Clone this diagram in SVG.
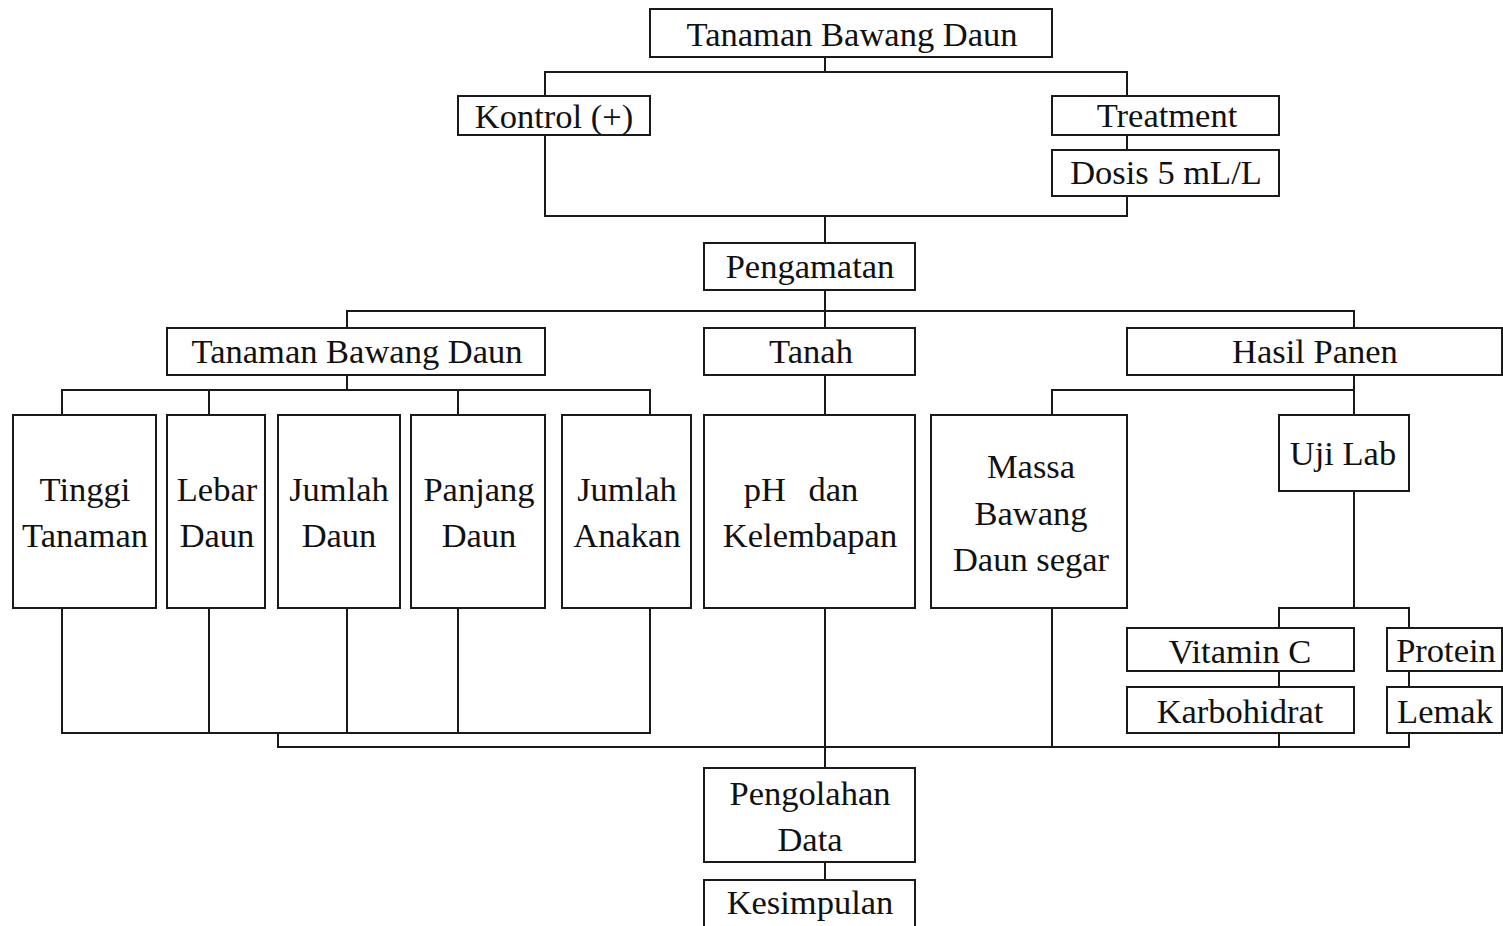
<svg xmlns="http://www.w3.org/2000/svg" width="1503" height="926" viewBox="0 0 1503 926">
<style>
rect{fill:#fff;stroke:#1a1a1a;stroke-width:2}
#connectors path{fill:none;stroke:#1a1a1a;stroke-width:2}
text{font-family:"Liberation Serif","Times New Roman",serif;font-size:34.5px;fill:#111;text-anchor:middle}
</style>
<rect width="1503" height="926" style="stroke:none"/>
<g id="connectors">
<path d="M825 57V72M545 96V72H1127V96M1127 135V150M545 135V216H1127V196M825 216V243"/>
<path d="M825 290V311M347 328V311H1354V328M825 311V328"/>
<path d="M347 375V390M62 415V390H650V415M209 390V415M458 390V415"/>
<path d="M825 375V415"/>
<path d="M1354 375V390M1052 415V390H1354V415"/>
<path d="M1354 491V608M1279 628V608H1409V628M1279 671V687M1409 671V687"/>
<path d="M62 608V733H650V608M209 608V733M347 608V733M458 608V733"/>
<path d="M278 733V747H1409V733M1052 608V747M1279 733V747"/>
<path d="M825 608V768M825 862V880"/>
</g>
<g id="n-top"><rect x="650" y="9" width="402" height="48"/><text x="852" y="46">Tanaman Bawang Daun</text></g>
<g id="n-kontrol"><rect x="458" y="96" width="192" height="39"/><text x="554" y="128">Kontrol (+)</text></g>
<g id="n-treatment"><rect x="1052" y="96" width="227" height="39"/><text x="1167" y="127">Treatment</text></g>
<g id="n-dosis"><rect x="1052" y="150" width="227" height="46"/><text x="1166" y="184">Dosis 5 mL/L</text></g>
<g id="n-pengamatan"><rect x="704" y="243" width="211" height="47"/><text x="810" y="278">Pengamatan</text></g>
<g id="n-tanaman"><rect x="167" y="328" width="378" height="47"/><text x="357" y="363">Tanaman Bawang Daun</text></g>
<g id="n-tanah"><rect x="704" y="328" width="211" height="47"/><text x="811" y="363">Tanah</text></g>
<g id="n-hasil"><rect x="1127" y="328" width="375" height="47"/><text x="1315" y="363">Hasil Panen</text></g>
<g id="n-tinggi"><rect x="13" y="415" width="143" height="193"/><text x="85" y="501">Tinggi</text><text x="85" y="547">Tanaman</text></g>
<g id="n-lebar"><rect x="167" y="415" width="98" height="193"/><text x="217" y="501">Lebar</text><text x="217" y="547">Daun</text></g>
<g id="n-jumlahdaun"><rect x="278" y="415" width="122" height="193"/><text x="339" y="501">Jumlah</text><text x="339" y="547">Daun</text></g>
<g id="n-panjang"><rect x="411" y="415" width="134" height="193"/><text x="479" y="501">Panjang</text><text x="479" y="547">Daun</text></g>
<g id="n-anakan"><rect x="562" y="415" width="129" height="193"/><text x="627" y="501">Jumlah</text><text x="627" y="547">Anakan</text></g>
<g id="n-ph"><rect x="704" y="415" width="211" height="193"/><text x="801" y="501" word-spacing="14">pH dan</text><text x="810" y="547">Kelembapan</text></g>
<g id="n-massa"><rect x="931" y="415" width="196" height="193"/><text x="1031" y="478">Massa</text><text x="1031" y="525">Bawang</text><text x="1031" y="571">Daun segar</text></g>
<g id="n-ujilab"><rect x="1279" y="415" width="130" height="76"/><text x="1343" y="465">Uji Lab</text></g>
<g id="n-vitc"><rect x="1127" y="628" width="227" height="43"/><text x="1240" y="663">Vitamin C</text></g>
<g id="n-karbo"><rect x="1127" y="687" width="227" height="46"/><text x="1240" y="723">Karbohidrat</text></g>
<g id="n-protein"><rect x="1387" y="628" width="115" height="43"/><text x="1446" y="662">Protein</text></g>
<g id="n-lemak"><rect x="1387" y="687" width="115" height="46"/><text x="1445" y="723">Lemak</text></g>
<g id="n-pengolahan"><rect x="704" y="768" width="211" height="94"/><text x="810" y="805">Pengolahan</text><text x="810" y="851">Data</text></g>
<g id="n-kesimpulan"><rect x="704" y="880" width="211" height="50"/><text x="810" y="914">Kesimpulan</text></g>
</svg>
